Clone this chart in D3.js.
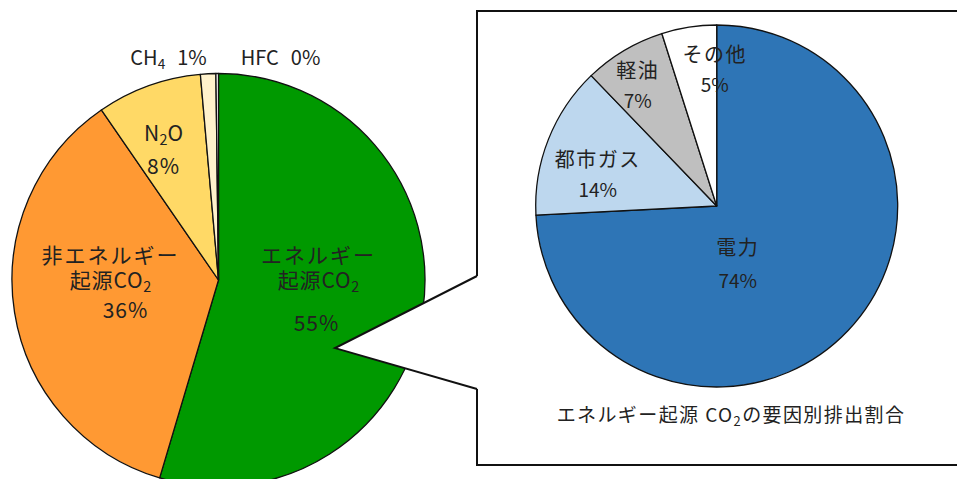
<!DOCTYPE html>
<html>
<head>
<meta charset="utf-8">
<script src="https://cdn.jsdelivr.net/npm/d3@7"></script>
<style>
  body { margin: 0; background: #fff; overflow: hidden; }
  text { font-family: "Noto Sans CJK JP", "Noto Sans", sans-serif; fill: #222; }
</style>
</head>
<body>
<div id="chart"></div>
<script>
// Greenhouse gas shares (left) and energy-origin CO2 breakdown (right)
var ghgNames  = ["エネルギー起源CO_2", "非エネルギー起源CO_2", "N_2O", "CH_4", "HFC"];
var ghgShares = [54.6, 35.8, 8.2, 1.2, 0.2];
var ghgLabels = ["55%", "36%", "8%", "1%", "0%"];
var ghgColors = ["#009900", "#ff9933", "#ffd966", "#fff2cc", "#ffffff"];

var co2Names  = ["電力", "都市ガス", "軽油", "その他"];
var co2Shares = [74.2, 13.6, 7.3, 4.9];
var co2Labels = ["74%", "14%", "7%", "5%"];
var co2Colors = ["#2e75b6", "#bdd7ee", "#bfbfbf", "#ffffff"];

var caption = "エネルギー起源 CO_2の要因別排出割合";

var width = 957, height = 479;

var left = {cx: 218.5, cy: 280, r: 206.5},
    right = {cx: 716.7, cy: 206, r: 181},
    box = {x: 477, y: 11, w: 560, h: 454};

var svg = d3.select("#chart").append("svg")
    .attr("width", width)
    .attr("height", height);

var pie = d3.pie().sort(null).value(function(d) { return d; });

// appends "abc_2" as abc with subscript 2 into a text/tspan
function richText(sel, str) {
  var parts = str.split("_");
  sel.append("tspan").text(parts[0]);
  for (var i = 1; i < parts.length; i++) {
    sel.append("tspan")
        .attr("font-size", "0.68em")
        .attr("dy", 4)
        .text(parts[i].charAt(0));
    if (parts[i].length > 1) {
      sel.append("tspan").attr("dy", -4).text(parts[i].slice(1));
    }
  }
}

// one text element, several lines: each line = {s, x, y, ls}
function multiLine(g, lines, size, fill) {
  var t = g.append("text")
      .attr("text-anchor", "middle")
      .attr("font-size", size)
      .attr("fill", fill || "#222");
  lines.forEach(function(l) {
    var parts = l.s.split("_");
    t.append("tspan")
        .attr("x", l.x).attr("y", l.y)
        .attr("letter-spacing", l.ls || 0)
        .text(parts[0]);
    for (var i = 1; i < parts.length; i++) {
      t.append("tspan")
          .attr("font-size", "0.68em")
          .attr("dy", 4)
          .text(parts[i].charAt(0));
      if (parts[i].length > 1) t.append("tspan").attr("dy", -4).text(parts[i].slice(1));
    }
  });
  return t;
}

function drawPie(g, shares, colors, r) {
  var arc = d3.arc().innerRadius(0).outerRadius(r);
  g.selectAll("path.slice")
      .data(pie(shares))
      .enter().append("path")
      .attr("class", "slice")
      .attr("d", arc)
      .attr("fill", function(d, i) { return colors[i]; })
      .attr("stroke", "#111")
      .attr("stroke-width", 1.3)
      .attr("stroke-linejoin", "round");
}

// ---- right box (drawn first, callout covers part of its border)
svg.append("rect")
    .attr("x", box.x).attr("y", box.y)
    .attr("width", box.w).attr("height", box.h)
    .attr("fill", "#fff")
    .attr("stroke", "#111")
    .attr("stroke-width", 2);

// ---- left pie
var gL = svg.append("g")
    .attr("transform", "translate(" + left.cx + "," + left.cy + ")");
drawPie(gL, ghgShares, ghgColors, left.r);

// ---- callout wedge from the green slice into the box
var tip = d3.pointRadial(120.3 * Math.PI / 180, 135);
tip = [left.cx + tip[0], left.cy + tip[1]];
var top0 = [box.x, 276], bot0 = [box.x, 389];
svg.append("path")
    .attr("d", "M" + tip + "L" + top0 + "L" + [box.x + 3, top0[1]] +
               "L" + [box.x + 3, bot0[1]] + "L" + bot0 + "Z")
    .attr("fill", "#fff");
svg.append("path")
    .attr("d", "M" + top0 + "L" + tip + "L" + bot0)
    .attr("fill", "none")
    .attr("stroke", "#111")
    .attr("stroke-width", 2)
    .attr("stroke-linejoin", "miter");

// ---- left labels (name lines + percentage in one text block)
multiLine(gL, [
  {s: "エネルギー", x: 100, y: -17, ls: 2},
  {s: "起源CO_2", x: 100, y: 8, ls: 0.8},
  {s: ghgLabels[0], x: 98, y: 51, ls: 1}
], 21);
multiLine(gL, [
  {s: "非エネルギー", x: -108, y: -17, ls: 2},
  {s: "起源CO_2", x: -108, y: 8, ls: 0.8},
  {s: ghgLabels[1], x: -93, y: 38, ls: 1}
], 21);
multiLine(gL, [
  {s: ghgNames[2], x: -55, y: -139, ls: 0.5},
  {s: ghgLabels[2], x: -55, y: -106, ls: 1}
], 21);

// small slices labelled above the pie
[[3, -50], [4, 62]].forEach(function(s) {
  var t = gL.append("text")
      .attr("x", s[1]).attr("y", -215)
      .attr("text-anchor", "middle")
      .attr("font-size", 20);
  richText(t, ghgNames[s[0]]);
  t.append("tspan").attr("dx", 12).attr("dy", s[0] === 3 ? -4 : 0).text(ghgLabels[s[0]]);
});

// ---- right pie
var gR = svg.append("g")
    .attr("transform", "translate(" + right.cx + "," + right.cy + ")");
drawPie(gR, co2Shares, co2Colors, right.r);

var co2LabelPos = [[21, 49], [-119, -39], [-79, -128], [-2, -144]];
co2Names.forEach(function(name, i) {
  var p = co2LabelPos[i];
  var t = gR.append("text")
      .attr("text-anchor", "middle")
      .attr("fill", "#2a2a2a");
  t.append("tspan")
      .attr("x", p[0]).attr("y", p[1])
      .attr("font-size", 20)
      .attr("letter-spacing", 1.5)
      .text(name);
  t.append("tspan")
      .attr("x", p[0]).attr("y", p[1] + (i === 0 ? 33 : 30))
      .attr("font-size", 19)
      .text(co2Labels[i]);
});

var cap = svg.append("text")
    .attr("x", 731).attr("y", 422)
    .attr("text-anchor", "middle")
    .attr("font-size", 19)
    .attr("letter-spacing", 1.4);
richText(cap, caption);
</script>
</body>
</html>
